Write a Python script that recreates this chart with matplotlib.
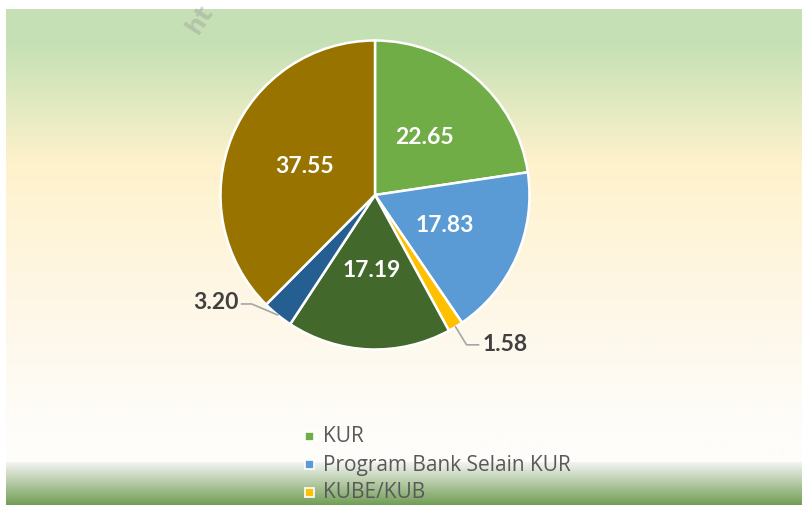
import numpy as np
import matplotlib
matplotlib.use('Agg')
import matplotlib.pyplot as plt
from matplotlib.lines import Line2D
from matplotlib.patches import Rectangle

# ---- data ----
values = [22.65, 17.83, 1.58, 17.19, 3.20, 37.55]
value_labels = ["22.65", "17.83", "1.58", "17.19", "3.20", "37.55"]
colors = ["#70AD47", "#5B9BD5", "#FFC000", "#43682B", "#255E91", "#997300"]
legend_labels = ["KUR", "Program Bank Selain KUR", "KUBE/KUB"]
outside = [False, False, True, False, True, False]

W, H = 803, 505
fig = plt.figure(figsize=(W / 100, H / 100), dpi=100)
fig.patch.set_facecolor('white')

# ---- background (pixel coords, y down) ----
bg = fig.add_axes([0, 0, 1, 1])
bg.set_xlim(0, W)
bg.set_ylim(H, 0)
bg.axis('off')

stops = [
    (9, (197, 224, 180)),
    (45, (198, 225, 181)),
    (165, (255, 242, 204)),
    (300, (254, 247, 230)),
    (430, (254, 253, 250)),
    (462, (254, 253, 250)),
    (463, (242, 243, 240)),
    (505, (114, 158, 86)),
]
ys = np.arange(9, 506)
sy = [s[0] for s in stops]
grad = np.zeros((len(ys), 1, 3))
for c in range(3):
    grad[:, 0, c] = np.interp(ys, sy, [s[1][c] for s in stops]) / 255.0
bg.imshow(grad, extent=(6, W, H, 9), aspect='auto', interpolation='bilinear', zorder=0)

# watermark fragment
bg.text(200, 19, "ht", rotation=57, fontsize=17, color='#9a9a9a', alpha=0.4,
        ha='center', va='center', family='DejaVu Sans', fontweight='bold', zorder=1)

# ---- pie ----
ax = fig.add_axes([0, 0, 1, 1])
ax.set_facecolor('none')
cx, cy, R = 375, H - 195, 154.5
wedges, _ = ax.pie(values, colors=colors, startangle=90, counterclock=False,
                   center=(cx, cy), radius=R,
                   wedgeprops=dict(edgecolor='white', linewidth=1.8))
ax.set_xlim(0, W)
ax.set_ylim(0, H)
ax.set_aspect('equal')
ax.axis('off')

total = sum(values)
start = 90.0
for v, lab, out in zip(values, value_labels, outside):
    mid = np.deg2rad(start - v / total * 360 / 2)
    start -= v / total * 360
    if not out:
        r = 0.49 * R
        ax.text(cx + r * np.cos(mid), cy + r * np.sin(mid), lab, ha='center', va='center',
                color='white', fontsize=16.5, fontweight='bold', family='Lato')
    else:
        ex, ey = cx + R * np.cos(mid), cy + R * np.sin(mid)
        if np.cos(mid) > 0:
            pts = [(ex, ey), (ex + 11, ey - 18), (ex + 23, ey - 18)]
            ax.text(ex + 27, ey - 18, lab, ha='left', va='center', color='#404040',
                    fontsize=16.5, fontweight='bold', family='Lato')
        else:
            pts = [(ex, ey), (ex - 26, ey + 11), (ex - 36, ey + 11)]
            ax.text(ex - 39, ey + 12, lab, ha='right', va='center', color='#404040',
                    fontsize=16.5, fontweight='bold', family='Lato')
        ax.add_line(Line2D([p[0] for p in pts], [p[1] for p in pts], color='#A6A6A6', lw=1.2))

# ---- legend ----
lx, ly0, dy = 305, 437, 28
for i, (lab, col) in enumerate(zip(legend_labels, colors)):
    y = ly0 + i * dy
    bg.add_patch(Rectangle((lx, y - 5), 9, 9, facecolor=col, edgecolor='white', lw=1.2, zorder=3))
    bg.text(lx + 18, y, lab, ha='left', va='center', color='#595959', fontsize=15,
            family='Open Sans', zorder=3)

fig.savefig('out.png', dpi=100)
